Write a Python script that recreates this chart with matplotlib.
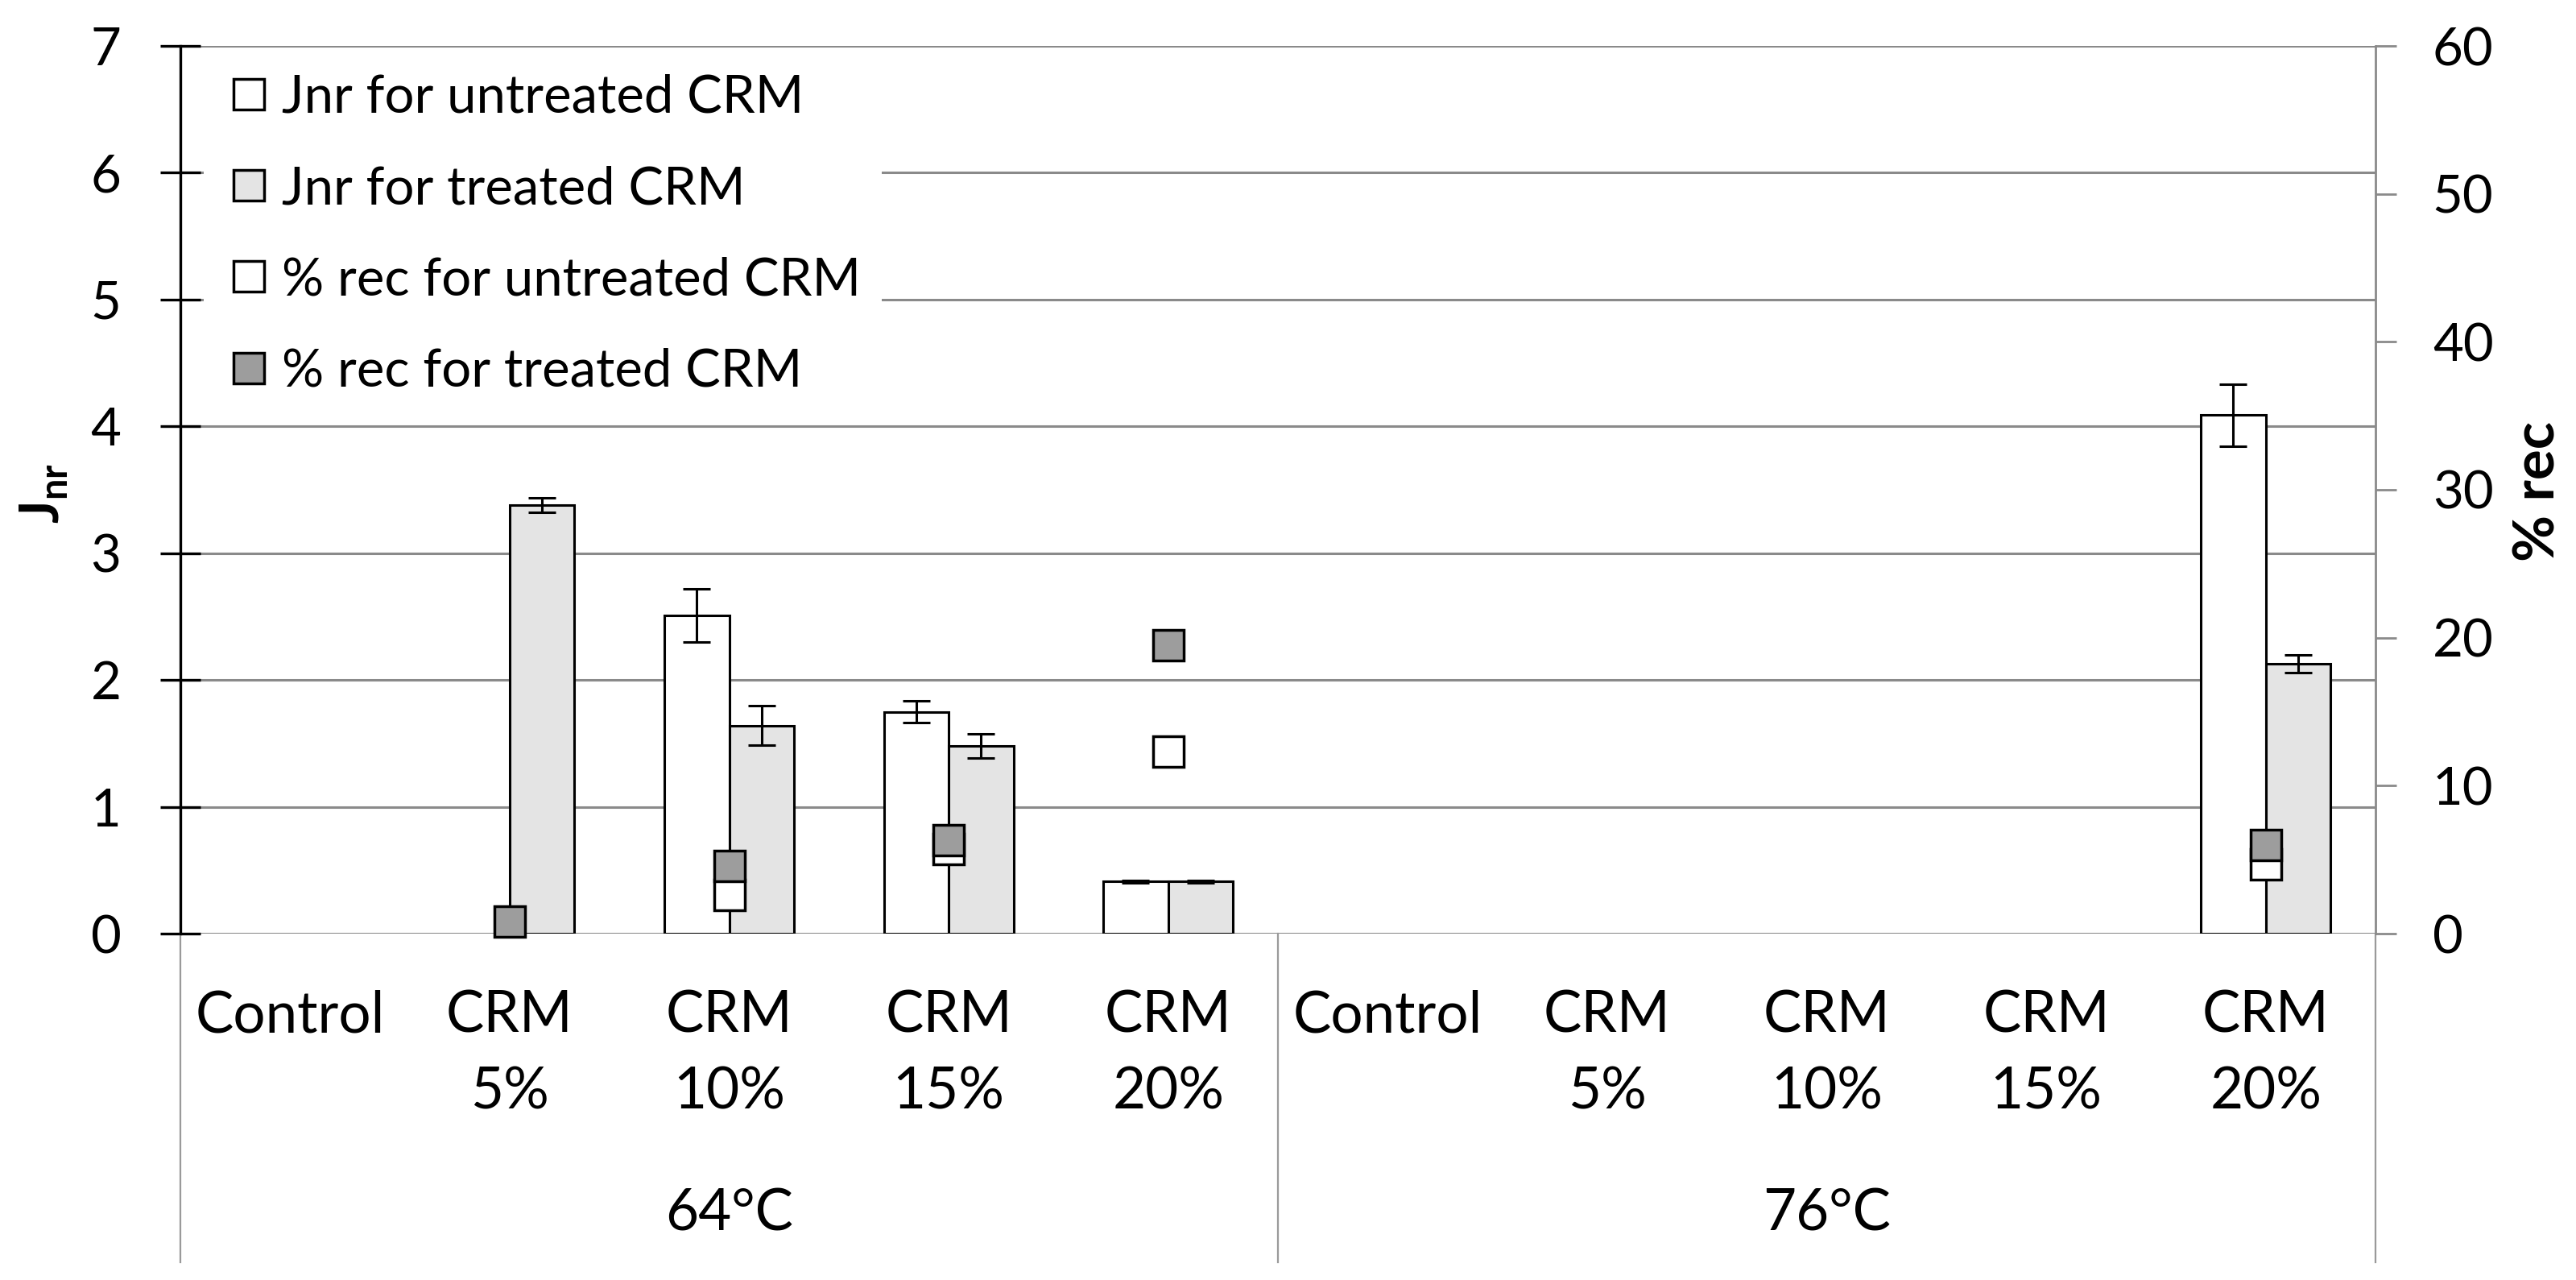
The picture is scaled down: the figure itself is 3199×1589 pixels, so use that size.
import numpy as np
import matplotlib
matplotlib.use("Agg")
import matplotlib.pyplot as plt
from matplotlib.lines import Line2D

plt.rcParams['font.family'] = ['Lato', 'DejaVu Sans']
plt.rcParams['mathtext.fontset'] = 'custom'
plt.rcParams['mathtext.rm'] = 'Lato'
plt.rcParams['mathtext.bf'] = 'Lato:bold'

# data (nan = not drawn)
nan = np.nan
categories = ['Control', 'CRM\n5%', 'CRM\n10%', 'CRM\n15%', 'CRM\n20%',
              'Control', 'CRM\n5%', 'CRM\n10%', 'CRM\n15%', 'CRM\n20%']
groups = ['64°C', '76°C']
jnr_untreated = [nan, nan, 2.51, 1.75, 0.41, nan, nan, nan, nan, 4.09]
jnr_untreated_err = [nan, nan, 0.21, 0.085, 0.01, nan, nan, nan, nan, 0.245]
jnr_treated = [nan, 3.38, 1.64, 1.48, 0.41, nan, nan, nan, nan, 2.13]
jnr_treated_err = [nan, 0.055, 0.155, 0.098, 0.01, nan, nan, nan, nan, 0.07]
rec_untreated = [nan, nan, 2.6, 5.7, 12.3, nan, nan, nan, nan, 4.7]
rec_treated = [nan, 0.8, 4.6, 6.3, 19.5, nan, nan, nan, nan, 6.0]

W, H = 3199, 1589
fig = plt.figure(figsize=(W / 100, H / 100), dpi=100)
ax = fig.add_axes([224 / W, 1 - 1159 / H, (2950 - 224) / W, (1159 - 57) / H])
ax2 = ax.twinx()

x = np.arange(len(categories))
bw = 0.295
grid_c = '#8a8a8a'

ax.bar(x - bw / 2, jnr_untreated, bw, color='white', edgecolor='black',
       linewidth=2.2, zorder=3)
ax.bar(x + bw / 2, jnr_treated, bw, color='#e4e4e4', edgecolor='black',
       linewidth=2.2, zorder=3)
ax.errorbar(x - bw / 2, jnr_untreated, yerr=jnr_untreated_err, fmt='none',
            ecolor='black', elinewidth=2.2, capsize=12, capthick=2.2, zorder=4)
ax.errorbar(x + bw / 2, jnr_treated, yerr=jnr_treated_err, fmt='none',
            ecolor='black', elinewidth=2.2, capsize=12, capthick=2.2, zorder=4)

ax2.plot(x, rec_untreated, ls='none', marker='s', ms=27, mfc='white',
         mec='black', mew=2.5, zorder=5, clip_on=False)
ax2.plot(x, rec_treated, ls='none', marker='s', ms=27, mfc='#9d9d9d',
         mec='black', mew=2.5, zorder=6, clip_on=False)

ax.set_xlim(-0.5, 9.5)
ax.set_ylim(0, 7)
ax2.set_ylim(0, 60)
ax.set_yticks(range(8))
ax2.set_yticks(range(0, 61, 10))

ax.set_axisbelow(True)
ax.yaxis.grid(True, color=grid_c, linewidth=2.2)
ax.set_xticks(x)
ax.set_xticklabels(categories, fontsize=51, linespacing=1.57)
ax.tick_params(axis='x', length=0, pad=50)
ax.tick_params(axis='y', direction='inout', length=36, width=2.4,
               labelsize=47, pad=35, color='black')
ax2.tick_params(axis='y', direction='out', length=19, width=2,
                labelsize=47, pad=32, color=grid_c)

for a in (ax, ax2):
    for s in a.spines.values():
        s.set_visible(False)
ax.spines['left'].set_visible(True)
ax.spines['left'].set_linewidth(2.4)
ax2.spines['right'].set_visible(True)
ax2.spines['right'].set_color(grid_c)
ax2.spines['right'].set_linewidth(2)

# group separators and group labels below the axis
tr = ax.get_xaxis_transform()
for xs in (-0.5, 4.5, 9.5):
    ax.plot([xs, xs], [0, -0.37], transform=tr, color='#9a9a9a',
            linewidth=1.6, clip_on=False)
for i, g in enumerate(groups):
    ax.text(2 + 5 * i, -0.316, g, transform=tr, ha='center', va='center',
            fontsize=51)

fig.text(55 / W, 1 - 613 / H, r'$\mathbf{J}_{\mathbf{nr}}$', rotation=90,
         ha='center', va='center', fontsize=48)
fig.text(3152 / W, 1 - 610 / H, '% rec', rotation=90, ha='center',
         va='center', fontsize=51, fontweight='bold')

handles = [
    Line2D([], [], ls='none', marker='s', ms=28, mfc='white', mec='black', mew=2.5),
    Line2D([], [], ls='none', marker='s', ms=28, mfc='#e4e4e4', mec='black', mew=2.5),
    Line2D([], [], ls='none', marker='s', ms=28, mfc='white', mec='black', mew=2.5),
    Line2D([], [], ls='none', marker='s', ms=28, mfc='#9d9d9d', mec='black', mew=2.5),
]
labels = ['Jnr for untreated CRM', 'Jnr for treated CRM',
          '% rec for untreated CRM', '% rec for treated CRM']
leg = ax2.legend(handles, labels, loc='upper left', bbox_to_anchor=(0.0108, 0.992),
                 fontsize=47, frameon=True, framealpha=1, edgecolor='none',
                 facecolor='white', borderpad=0.4, borderaxespad=0,
                 handlelength=0.9, handletextpad=0.18, labelspacing=0.83)
leg.get_frame().set_linewidth(0)

fig.savefig('out.png', dpi=100, facecolor='white')
